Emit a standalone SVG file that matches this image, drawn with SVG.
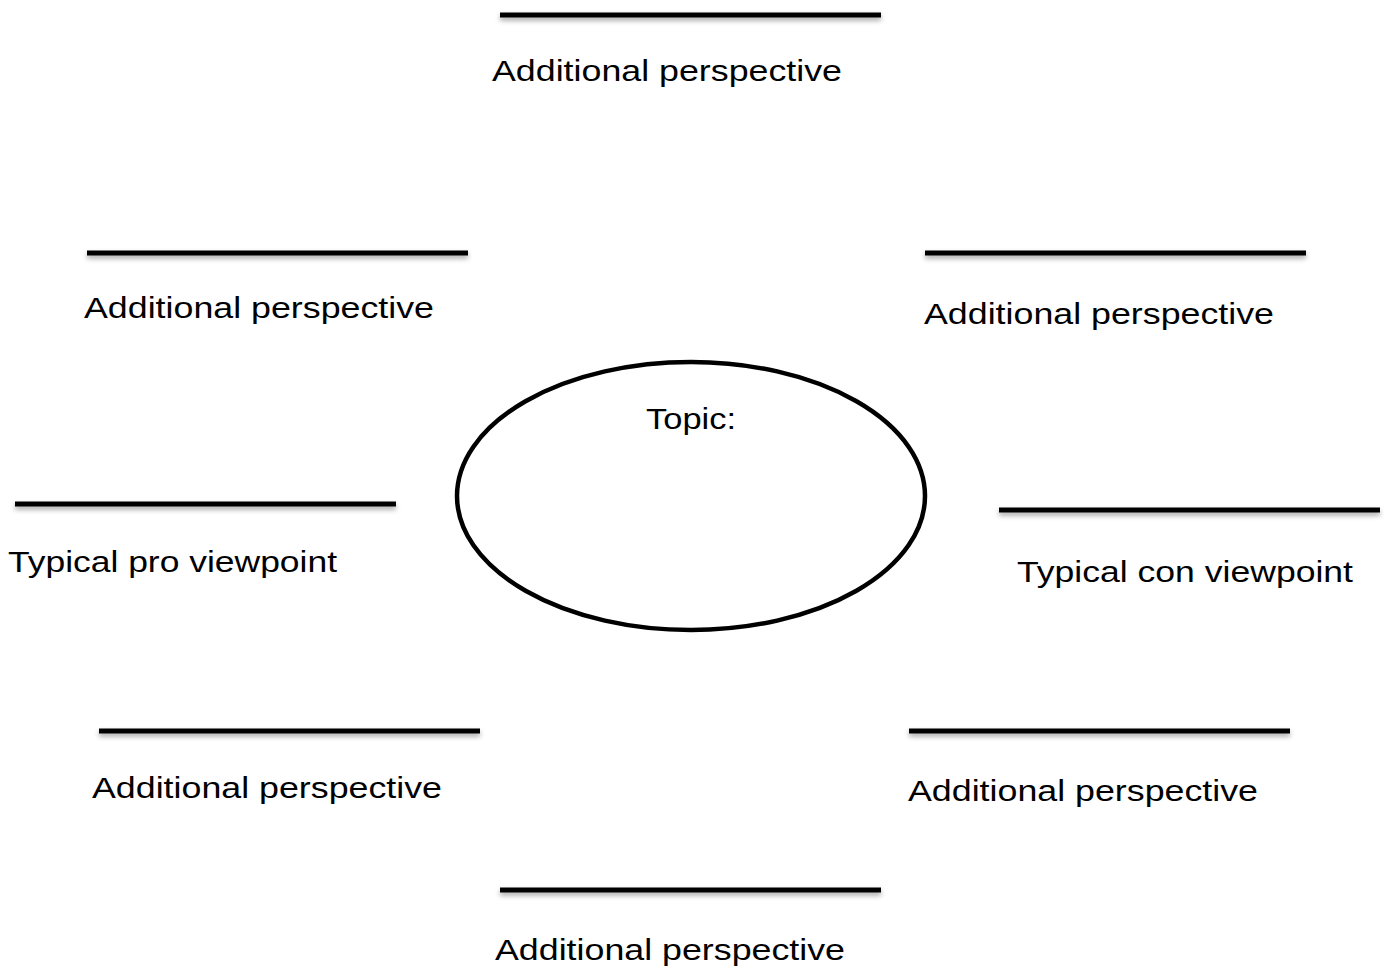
<svg xmlns="http://www.w3.org/2000/svg" width="1386" height="969" viewBox="0 0 1386 969">
<defs>
<filter id="sh" x="-5%" y="-100%" width="110%" height="400%">
<feDropShadow dx="0" dy="3" stdDeviation="2.5" flood-color="#000" flood-opacity="0.35"/>
</filter>
<style>
.ln{fill:#000;filter:url(#sh)}
.t{font-family:"Liberation Sans","DejaVu Sans",sans-serif;font-size:30px;fill:#000}
</style>
</defs>
<rect width="1386" height="969" fill="#fff"/>
<g id="topic">
<ellipse cx="691" cy="496" rx="234" ry="134" fill="#fff" stroke="#000" stroke-width="4.5"/>
<text class="t" x="646" y="429" textLength="90" lengthAdjust="spacingAndGlyphs">Topic:</text>
</g>
<g id="top">
<rect class="ln" x="500" y="12.5" width="381" height="5"/>
<text class="t" x="492" y="81" textLength="350" lengthAdjust="spacingAndGlyphs">Additional perspective</text>
</g>
<g id="upper-left">
<rect class="ln" x="87" y="250.5" width="381" height="5"/>
<text class="t" x="84" y="318" textLength="350" lengthAdjust="spacingAndGlyphs">Additional perspective</text>
</g>
<g id="upper-right">
<rect class="ln" x="925" y="250.5" width="381" height="5"/>
<text class="t" x="924" y="324" textLength="350" lengthAdjust="spacingAndGlyphs">Additional perspective</text>
</g>
<g id="pro">
<rect class="ln" x="15" y="501.5" width="381" height="5"/>
<text class="t" x="8" y="572" textLength="329" lengthAdjust="spacingAndGlyphs">Typical pro viewpoint</text>
</g>
<g id="con">
<rect class="ln" x="999" y="507.5" width="381" height="5"/>
<text class="t" x="1017" y="582" textLength="336" lengthAdjust="spacingAndGlyphs">Typical con viewpoint</text>
</g>
<g id="lower-left">
<rect class="ln" x="99" y="728.5" width="381" height="5"/>
<text class="t" x="92" y="798" textLength="350" lengthAdjust="spacingAndGlyphs">Additional perspective</text>
</g>
<g id="lower-right">
<rect class="ln" x="909" y="728.5" width="381" height="5"/>
<text class="t" x="908" y="801" textLength="350" lengthAdjust="spacingAndGlyphs">Additional perspective</text>
</g>
<g id="bottom">
<rect class="ln" x="500" y="887.5" width="381" height="5"/>
<text class="t" x="495" y="960" textLength="350" lengthAdjust="spacingAndGlyphs">Additional perspective</text>
</g>
<g id="connectors"></g>
</svg>
